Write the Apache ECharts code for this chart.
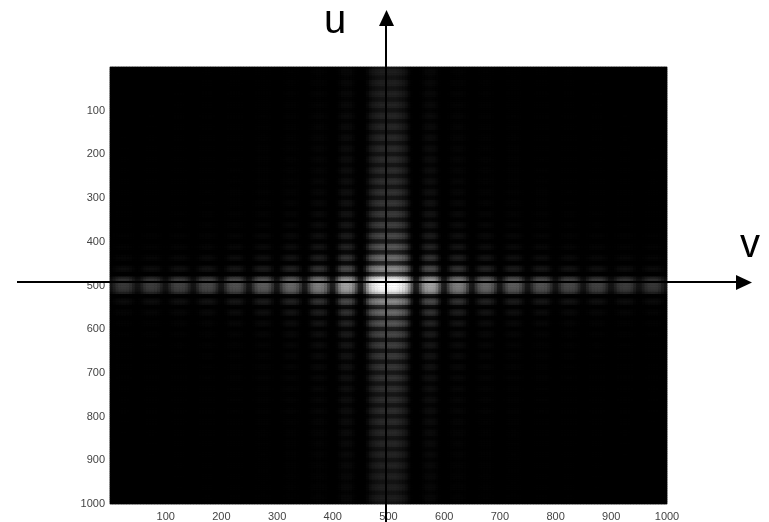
<!DOCTYPE html>
<html><head><meta charset="utf-8">
<style>html,body{margin:0;padding:0;background:#fff}#c{width:769px;height:522px;filter:blur(0.7px)}</style>
<script src="https://cdn.jsdelivr.net/npm/echarts@6/dist/echarts.min.js"></script>
</head><body><div id="c"></div>
<script>
const columnBrightness = [
.08,.19,.27,.31,.32,.32,.31,.27,.19,.08,
.09,.20,.29,.33,.34,.34,.33,.29,.20,.09,
.09,.22,.31,.36,.37,.37,.36,.31,.22,.09,
.10,.24,.34,.39,.40,.40,.39,.34,.24,.10,
.11,.26,.37,.43,.44,.44,.43,.37,.26,.11,
.12,.29,.41,.47,.48,.48,.47,.41,.29,.12,
.13,.32,.45,.51,.53,.53,.51,.45,.32,.13,
.16,.37,.53,.60,.62,.62,.60,.53,.37,.16,
.19,.44,.63,.72,.74,.74,.72,.63,.44,.19,
.15,.45,.70,.85,.92,.96,.98,1,1,1,1,1,1,.98,.96,.92,.85,.70,.45,.15,
.19,.44,.63,.72,.74,.74,.72,.63,.44,.19,
.16,.37,.53,.60,.62,.62,.60,.53,.37,.16,
.13,.32,.45,.51,.53,.53,.51,.45,.32,.13,
.12,.29,.41,.47,.48,.48,.47,.41,.29,.12,
.11,.26,.37,.43,.44,.44,.43,.37,.26,.11,
.10,.24,.34,.39,.40,.40,.39,.34,.24,.10,
.09,.22,.31,.36,.37,.37,.36,.31,.22,.09,
.09,.20,.29,.33,.34,.34,.33,.29,.20,.09,
.08,.18,.26,.30,.31,.31,.30,.26,.18,.08
];
const rowBrightness = [
.07,.15,.17,.15,.07, .07,.16,.18,.16,.07, .08,.17,.19,.17,.08, .08,.18,.20,.18,.08,
.08,.19,.21,.19,.08, .09,.20,.22,.20,.09, .09,.21,.23,.21,.09, .10,.22,.24,.22,.10,
.10,.23,.25,.23,.10, .10,.23,.26,.23,.10, .11,.24,.27,.24,.11, .12,.26,.29,.26,.12,
.12,.28,.31,.28,.12, .13,.30,.33,.30,.13, .14,.32,.36,.32,.14, .16,.36,.40,.36,.16,
.18,.41,.46,.41,.18, .22,.49,.54,.49,.22, .26,.60,.66,.60,.26,
.35,.85,.95,.98,1,1,.98,.95,.85,.35,
.26,.60,.66,.60,.26, .22,.49,.54,.49,.22, .18,.41,.46,.41,.18, .16,.36,.40,.36,.16,
.14,.32,.36,.32,.14, .13,.30,.33,.30,.13, .12,.28,.31,.28,.12, .12,.26,.29,.26,.12,
.11,.24,.27,.24,.11, .10,.23,.26,.23,.10, .10,.23,.25,.23,.10, .10,.22,.24,.22,.10,
.09,.21,.23,.21,.09, .09,.20,.22,.20,.09, .08,.19,.21,.19,.08, .08,.18,.20,.18,.08,
.08,.17,.19,.17,.08, .07,.16,.18,.16,.07, .07,.15,.17,.15,.07
];
const axisTicks = [100,200,300,400,500,600,700,800,900,1000];
const grayRamp = ['#000000','#1e1e1e','#474747','#787878','#b4b4b4','#ffffff'];

// The picture is a log-magnitude image, so the two profiles add, with a soft floor at black
const combine = (c, r) => Math.log(1 + Math.exp(8 * (c + r - 1))) / 8;
const cells = [];
rowBrightness.forEach((r, y) => columnBrightness.forEach((c, x) => cells.push([x, y, combine(c, r)])));
const bandNames = a => a.map((_, i) => String(i));
const tickFmt = v => axisTicks.includes(v) ? String(v) : '';
const labelStyle = {show:true,color:'#444',fontFamily:'Liberation Sans',fontSize:11};

const chart = echarts.init(document.getElementById('c'), null, {renderer:'canvas'});
chart.setOption({
  animation:false,
  backgroundColor:'#fff',
  grid:{left:110,top:67,width:557,height:439,show:true,backgroundColor:'#000',borderColor:'#999',borderWidth:1},
  xAxis:[
    {type:'category',data:bandNames(columnBrightness),show:false},
    {type:'value',min:0,max:1000,interval:100,position:'bottom',splitLine:{show:false},axisTick:{show:false},
     axisLine:{show:false},axisLabel:{...labelStyle,margin:7,formatter:tickFmt}}
  ],
  yAxis:[
    {type:'category',data:bandNames(rowBrightness),inverse:true,show:false},
    {type:'value',min:0,max:1000,interval:100,inverse:true,position:'left',splitLine:{show:false},axisTick:{show:false},
     axisLine:{show:false},axisLabel:{...labelStyle,margin:5,formatter:tickFmt}}
  ],
  visualMap:{show:false,min:0,max:1,seriesIndex:0,inRange:{color:grayRamp}},
  series:[{type:'heatmap',data:cells,xAxisIndex:0,yAxisIndex:0,progressive:0,emphasis:{disabled:true},silent:true}],
  graphic:[
    {type:'line',z:100,shape:{x1:17,y1:282,x2:738,y2:282},style:{stroke:'#000',lineWidth:2}},
    {type:'polygon',z:100,shape:{points:[[736,275],[752,282.5],[736,290]]},style:{fill:'#000'}},
    {type:'line',z:100,shape:{x1:386,y1:24,x2:386,y2:522},style:{stroke:'#000',lineWidth:2}},
    {type:'polygon',z:100,shape:{points:[[379,26],[386.5,10],[394,26]]},style:{fill:'#000'}},
    {type:'text',z:100,style:{text:'u',x:335,y:42,align:'center',verticalAlign:'bottom',fill:'#000',font:'40px "Liberation Sans"'}},
    {type:'text',z:100,style:{text:'v',x:750,y:266,align:'center',verticalAlign:'bottom',fill:'#000',font:'40px "Liberation Sans"'}}
  ]
});
</script></body></html>
